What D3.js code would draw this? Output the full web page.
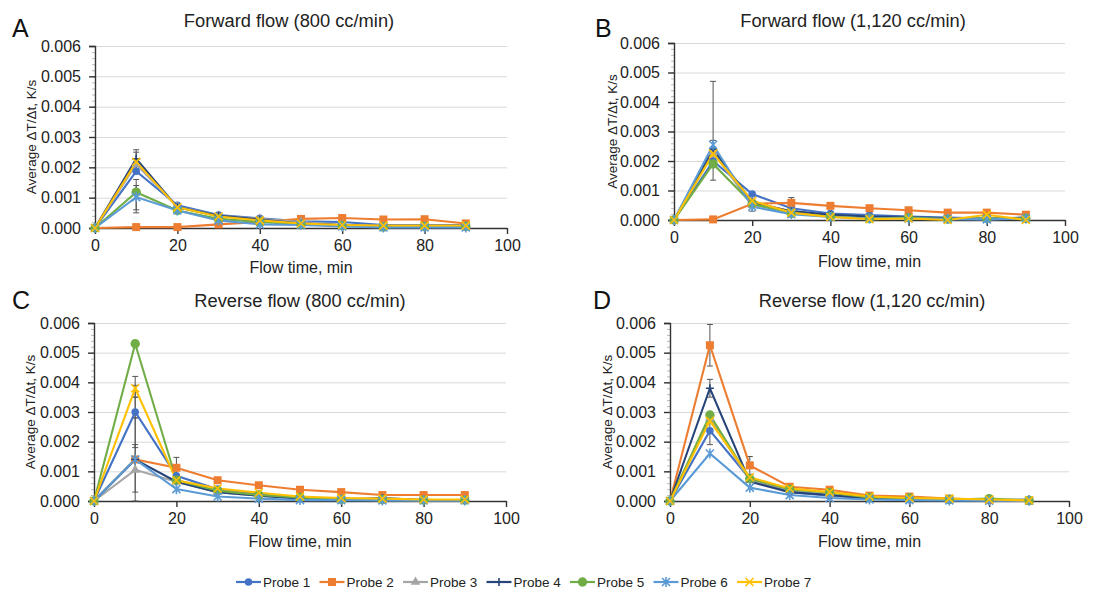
<!DOCTYPE html>
<html>
<head>
<meta charset="utf-8">
<script src="https://cdn.jsdelivr.net/npm/d3@7"></script>
<style>
body { margin: 0; background: #fff; }
svg { font-family: "Liberation Sans", Arial, sans-serif; }
.grid line { stroke: #d9d9d9; stroke-width: 1; }
.grid path { display: none; }
.axis path, .axis line { stroke: #333; stroke-width: 1.4; }
.axis text { font-size: 16px; fill: #222; }
.minor line { stroke: #aaa; stroke-width: 0.8; }
.minor path { display: none; }
.err { stroke: #555; stroke-width: 1; fill: none; }
</style>
</head>
<body>
<svg width="1115" height="594"></svg>
<script>
// flow time, minutes
var times = [0, 10, 20, 30, 40, 50, 60, 70, 80, 90];
var probes = ['Probe 1', 'Probe 2', 'Probe 3', 'Probe 4', 'Probe 5', 'Probe 6', 'Probe 7'];
var colors = ['#4472c4', '#ed7d31', '#a5a5a5', '#264478', '#70ad47', '#5b9bd5', '#ffc000'];
var yTicks = [0, 0.001, 0.002, 0.003, 0.004, 0.005, 0.006];
var xTicks = [0, 20, 40, 60, 80, 100];

// A - forward 800
var fwd800 = [
  [0, 0.00187, 0.00075, 0.00043, 0.00032, 0.00022, 0.0002, 0.0001, 0.0001, 0.0001],
  [0, 0.00003, 0.00003, 0.00012, 0.0002, 0.0003, 0.00033, 0.00028, 0.00029, 0.00015],
  [0, 0.0021, 0.0007, 0.0004, 0.0003, 0.0002, 0.0001, 0.00005, 0.00005, 0.00005],
  [0, 0.00228, 0.00068, 0.0004, 0.00028, 0.00015, 0.0001, 0.00005, 0.00003, 0.00005],
  [0, 0.00118, 0.00058, 0.0003, 0.0002, 0.00012, 0.00008, 0.00003, 0.00005, 0.00005],
  [0, 0.00102, 0.00058, 0.00025, 0.00012, 0.0001, 0.00005, 0.00002, 0.00002, 0.00002],
  [0, 0.00218, 0.00068, 0.00038, 0.00025, 0.00015, 0.0001, 0.00008, 0.00008, 0.00008]
];
// B - forward 1120
var fwd1120 = [
  [0, 0.0020, 0.00088, 0.0004, 0.00022, 0.00017, 0.00012, 0.00008, 0.00005, 0.00008],
  [0, 0.00002, 0.00055, 0.00058, 0.00048, 0.0004, 0.00033, 0.00025, 0.00025, 0.00018],
  [0, 0.0023, 0.0005, 0.0003, 0.00015, 0.0001, 0.00008, 0.00005, 0.00003, 0.00005],
  [0, 0.0024, 0.0006, 0.0003, 0.00018, 0.00012, 0.0001, 0.00005, 0.00003, 0.00008],
  [0, 0.0019, 0.00055, 0.00022, 0.00012, 0.00005, 0.00008, 0.00003, 0.00005, 0.00005],
  [0, 0.00255, 0.00045, 0.0002, 0.0001, 0.00005, 0.00005, 0.00003, 0.00002, 0.00005],
  [0, 0.00225, 0.00065, 0.00025, 0.0001, 0.00003, 0.00005, 0.0, 0.00018, 0.0]
];
// C - reverse 800
var rev800 = [
  [0, 0.0030, 0.00085, 0.0004, 0.00022, 0.00012, 0.00008, 0.00005, 0.00003, 0.00003],
  [0, 0.0014, 0.00112, 0.0007, 0.00053, 0.00038, 0.0003, 0.0002, 0.0002, 0.0002],
  [0, 0.00105, 0.00065, 0.0003, 0.00018, 0.0001, 0.00005, 0.00003, 0.00002, 0.00002],
  [0, 0.0014, 0.00065, 0.0003, 0.00018, 0.00008, 0.00005, 0.0001, 0.00003, 0.00003],
  [0, 0.0053, 0.0007, 0.00035, 0.0002, 0.00012, 0.00005, 0.00005, 0.00003, 0.00003],
  [0, 0.0014, 0.0004, 0.00015, 0.00008, 0.00003, 0.00003, 0.00002, 0.00002, 0.00002],
  [0, 0.0038, 0.0007, 0.00042, 0.00028, 0.00015, 0.0001, 0.00008, 0.00005, 0.00005]
];
// D - reverse 1120
var rev1120 = [
  [0, 0.00237, 0.00075, 0.0003, 0.00018, 0.0001, 0.00005, 0.00003, 0.00002, 0.00002],
  [0, 0.00525, 0.0012, 0.00048, 0.00038, 0.00018, 0.00015, 0.00008, 0.00003, 0.00001],
  [0, 0.0028, 0.0007, 0.00035, 0.0002, 0.0001, 0.00005, 0.00005, 0.00003, 0.00002],
  [0, 0.0038, 0.00065, 0.0003, 0.0002, 0.00008, 0.00005, 0.00003, 0.00002, 0.00005],
  [0, 0.0029, 0.00075, 0.0004, 0.00028, 0.00012, 0.0001, 0.00005, 0.00008, 0.00002],
  [0, 0.0016, 0.00045, 0.0002, 0.0001, 0.00005, 0.00003, 0.00002, 0.00001, 0.00001],
  [0, 0.0027, 0.0008, 0.00042, 0.0003, 0.00015, 0.0001, 0.00008, 0.00005, 0.00002]
];

// error bars: [time, low, high]
var errFwd800 = [[10, 0.00195, 0.00258], [10, 0.0018, 0.0025], [10, 0.0005, 0.0014], [10, 0.0006, 0.0016], [20, 0.00055, 0.0008]];
var errFwd1120 = [[10, 0.00135, 0.0047], [10, 0.0023, 0.0027], [20, 0.0003, 0.0007], [30, 0.0004, 0.00076]];
var errRev800 = [[10, 0.0052, 0.0054], [10, 0.0035, 0.0042], [10, 0.0028, 0.0039], [10, 0.0018, 0.0035], [10, 0.0003, 0.0028], [10, 0, 0.0019], [20, 0.00077, 0.00147]];
var errRev1120 = [[10, 0.00455, 0.00595], [10, 0.0035, 0.0041], [10, 0.0019, 0.0028], [20, 0.0009, 0.0015], [30, 0.00035, 0.00055]];

var svg = d3.select('svg');

var panels = [
  {letter: 'A', title: 'Forward flow (800 cc/min)', data: fwd800, err: errFwd800,
   l: 95, r: 507, t: 46, b: 228, lx: 12, ly: 37, tx: 289, ty: 27, ylx: 31, xly: 273},
  {letter: 'B', title: 'Forward flow (1,120 cc/min)', data: fwd1120, err: errFwd1120,
   l: 674, r: 1065, t: 43, b: 220, lx: 595, ly: 37, tx: 853, ty: 27, ylx: 612, xly: 267},
  {letter: 'C', title: 'Reverse flow (800 cc/min)', data: rev800, err: errRev800,
   l: 94, r: 506, t: 323, b: 501, lx: 12, ly: 309, tx: 300, ty: 307, ylx: 30, xly: 547},
  {letter: 'D', title: 'Reverse flow (1,120 cc/min)', data: rev1120, err: errRev1120,
   l: 670, r: 1069, t: 323, b: 501, lx: 593, ly: 309, tx: 872, ty: 307, ylx: 607, xly: 547}
];

function markerPath(i) {
  if (i === 0) return d3.symbol(d3.symbolCircle, 45)();
  if (i === 1) return d3.symbol(d3.symbolSquare, 64)();
  if (i === 2) return d3.symbol(d3.symbolTriangle, 40)();
  if (i === 3) return 'M-4,0H4M0,-4V4';
  if (i === 4) return d3.symbol(d3.symbolCircle, 70)();
  if (i === 5) return 'M-4,-4L4,4M-4,4L4,-4M0,-5V5';
  return 'M-4,-4L4,4M-4,4L4,-4';
}
var strokeMarker = [false, false, false, true, false, true, true];

function drawMarker(g, i, x, y) {
  var p = g.append('path')
    .attr('d', markerPath(i))
    .attr('transform', 'translate(' + x + ',' + y + ')');
  if (strokeMarker[i]) p.attr('fill', 'none').attr('stroke', colors[i]).attr('stroke-width', 1.6);
  else p.attr('fill', colors[i]);
}

panels.forEach(function(p) {
  var x = d3.scaleLinear().domain([0, 100]).range([p.l, p.r]);
  var y = d3.scaleLinear().domain([0, 0.006]).range([p.b, p.t]);
  var g = svg.append('g');

  g.append('g').attr('class', 'grid')
    .attr('transform', 'translate(' + p.l + ',0)')
    .call(d3.axisRight(y).tickValues(yTicks.slice(1)).tickSize(p.r - p.l).tickFormat(''));

  g.append('g').attr('class', 'minor')
    .attr('transform', 'translate(' + p.l + ',0)')
    .call(d3.axisLeft(y).tickValues(d3.range(0, 31).map(function(k) { return k * 0.0002; }))
      .tickSize(3).tickFormat(''));

  g.append('g').attr('class', 'axis')
    .attr('transform', 'translate(' + p.l + ',0)')
    .call(d3.axisLeft(y).tickValues(yTicks).tickSize(6).tickPadding(8).tickFormat(d3.format('.3f')));

  g.append('g').attr('class', 'axis')
    .attr('transform', 'translate(0,' + p.b + ')')
    .call(d3.axisBottom(x).tickValues(xTicks).tickSize(6).tickPadding(6).tickSizeOuter(0));

  // error bars
  p.err.forEach(function(e) {
    var cx = x(e[0]);
    g.append('path').attr('class', 'err')
      .attr('d', 'M' + cx + ',' + y(e[1]) + 'V' + y(e[2]) +
        'M' + (cx - 3) + ',' + y(e[1]) + 'H' + (cx + 3) +
        'M' + (cx - 3) + ',' + y(e[2]) + 'H' + (cx + 3));
  });

  var line = d3.line()
    .x(function(d, k) { return x(times[k]); })
    .y(function(d) { return y(d); });

  p.data.forEach(function(series, i) {
    g.append('path')
      .attr('d', line(series))
      .attr('fill', 'none')
      .attr('stroke', colors[i])
      .attr('stroke-width', 2.1);
  });
  p.data.forEach(function(series, i) {
    series.forEach(function(v, k) { drawMarker(g, i, x(times[k]), y(v)); });
  });

  g.append('text').attr('x', p.lx).attr('y', p.ly)
    .style('font-size', '25px').style('fill', '#111').text(p.letter);
  g.append('text').attr('x', p.tx).attr('y', p.ty).attr('text-anchor', 'middle')
    .style('font-size', '18.3px').style('fill', '#222').text(p.title);
  g.append('text')
    .attr('transform', 'translate(' + p.ylx + ',' + ((p.t + p.b) / 2) + ') rotate(-90)')
    .attr('text-anchor', 'middle').attr('dy', '0.35em')
    .style('font-size', '13.5px').style('fill', '#222')
    .text('Average \u0394T/\u0394t, K/s');
  g.append('text').attr('x', (p.l + p.r) / 2).attr('y', p.xly).attr('text-anchor', 'middle')
    .style('font-size', '16px').style('fill', '#222').text('Flow time, min');
});

// legend
var leg = svg.append('g').attr('transform', 'translate(236,582)');
probes.forEach(function(name, i) {
  var gx = i * 83.5;
  var item = leg.append('g').attr('transform', 'translate(' + gx + ',0)');
  item.append('line').attr('x1', 0).attr('x2', 25).attr('y1', 0).attr('y2', 0)
    .attr('stroke', colors[i]).attr('stroke-width', 2.2);
  drawMarker(item, i, 12.5, 0);
  item.append('text').attr('x', 27).attr('y', 0).attr('dy', '0.35em')
    .style('font-size', '13.5px').style('fill', '#222').text(name);
});
</script>
</body>
</html>
